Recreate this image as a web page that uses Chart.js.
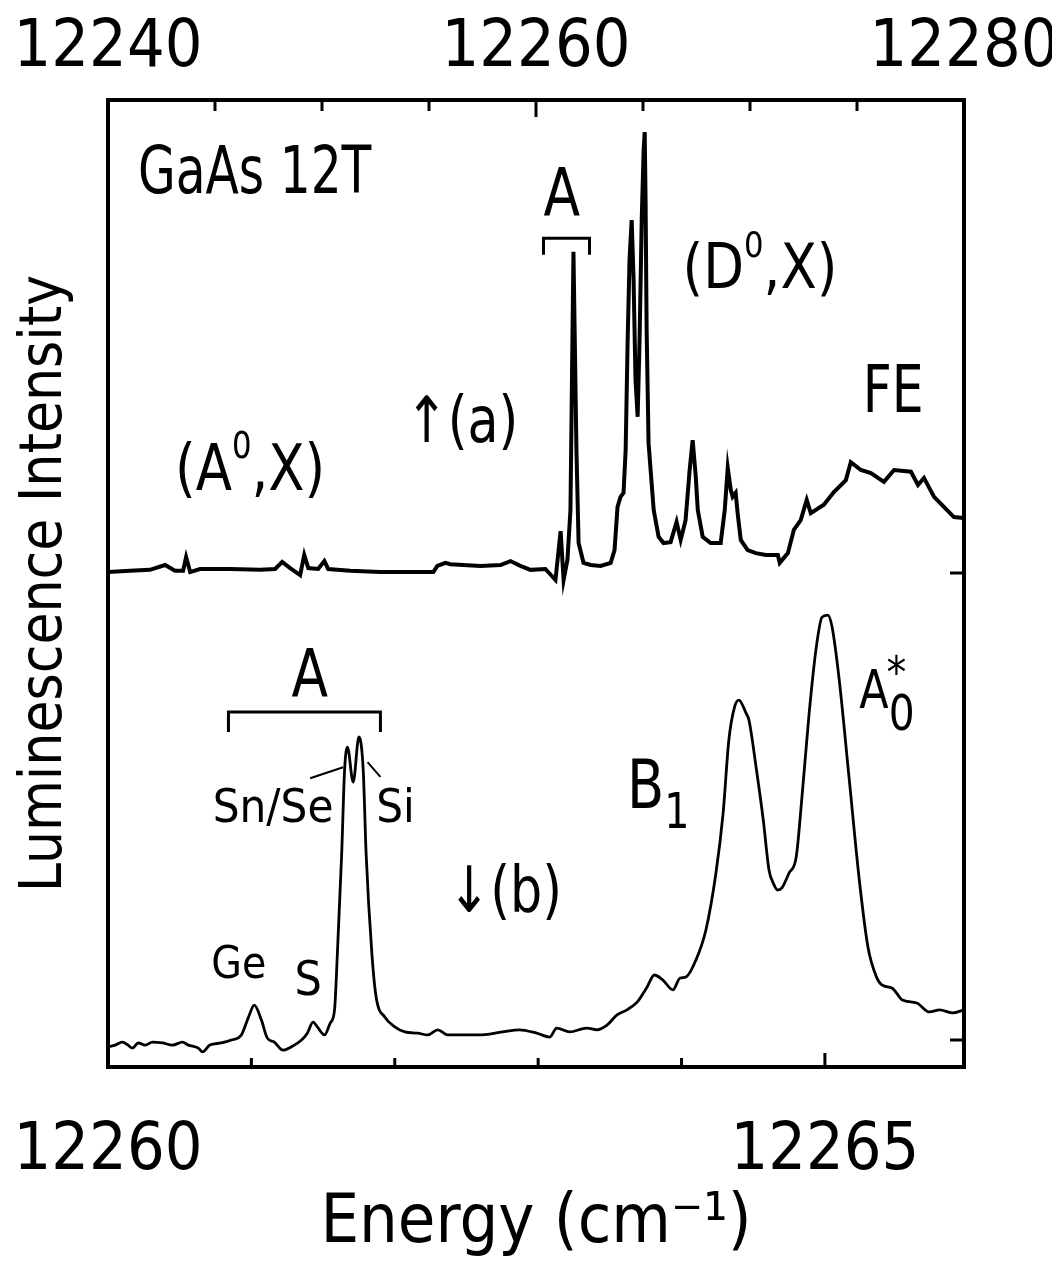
<!DOCTYPE html>
<html>
<head>
<meta charset="utf-8">
<script src="https://cdn.jsdelivr.net/npm/chart.js@4.4.1/dist/chart.umd.min.js"></script>
<style>
  html, body { margin: 0; padding: 0; background: #fff; }
  canvas { display: block; }
</style>
</head>
<body>
<canvas id="myChart" width="1052" height="1262"></canvas>
<script>
const FONT = "'DejaVu Sans Condensed', 'Liberation Sans Narrow', 'Liberation Sans', sans-serif"

// spectrum (a), read against the top energy axis (cm-1)
const upperEnergy = [
  12240.00, 12241.03, 12241.96, 12242.67, 12243.13, 12243.51, 12243.65, 12243.84, 12244.30, 12245.71,
  12247.11, 12247.81, 12248.14, 12248.51, 12248.98, 12249.17, 12249.36, 12249.82, 12250.11, 12250.29,
  12251.32, 12252.73, 12254.13, 12255.20, 12255.39, 12255.77, 12256.00, 12257.40, 12258.34, 12258.81,
  12259.27, 12259.74, 12260.44, 12260.91, 12261.15, 12261.29, 12261.47, 12261.61, 12261.75, 12261.89,
  12261.99, 12262.22, 12262.55, 12263.02, 12263.49, 12263.67, 12263.81, 12263.95, 12264.09, 12264.19,
  12264.28, 12264.37, 12264.47, 12264.56, 12264.65, 12264.75, 12264.84, 12264.94, 12265.03, 12265.08,
  12265.12, 12265.17, 12265.26, 12265.50, 12265.73, 12265.96, 12266.29, 12266.57, 12266.76, 12266.99,
  12267.18, 12267.32, 12267.46, 12267.56, 12267.79, 12268.16, 12268.63, 12268.82, 12268.96, 12269.10,
  12269.19, 12269.33, 12269.43, 12269.57, 12269.89, 12270.27, 12270.74, 12271.30, 12271.39, 12271.77,
  12272.05, 12272.37, 12272.65, 12272.84, 12273.45, 12273.92, 12274.48, 12274.71, 12275.18, 12275.65,
  12276.26, 12276.73, 12277.52, 12277.85, 12278.13, 12278.60, 12279.06, 12279.53, 12280.00
]
const upperIntensity = [
  0.2, 0.5, 0.7, 1.8, 0.5, 0.5, 3.6, 0.2, 0.9, 0.9,
  0.7, 0.9, 2.5, 1.1, -0.5, 4.1, 1.1, 0.9, 2.7, 0.9,
  0.5, 0.2, 0.2, 0.2, 1.6, 2.3, 2.0, 1.6, 1.8, 2.7,
  1.6, 0.7, 0.9, -1.6, 9.5, -1.6, 3.0, 14.3, 73.0, 28.0,
  6.8, 2.3, 1.8, 1.6, 2.3, 5.2, 15.0, 17.3, 18.2, 28.0,
  52.3, 71.1, 80.2, 66.6, 43.9, 35.5, 53.0, 80.2, 96.1, 100.2,
  84.8, 55.2, 29.5, 14.3, 8.2, 6.8, 7.0, 11.6, 7.5, 12.0,
  23.4, 30.2, 22.3, 14.3, 8.2, 6.8, 6.8, 14.3, 23.9, 18.9,
  17.3, 18.2, 13.2, 7.5, 5.2, 4.5, 4.1, 4.1, 2.3, 4.5,
  9.8, 12.0, 16.6, 13.6, 15.5, 18.4, 21.1, 25.2, 23.4, 22.7,
  20.7, 23.4, 23.0, 20.0, 21.6, 17.3, 15.0, 12.7, 12.5
]

// spectrum (b), read against the bottom energy axis (cm-1)
const lowerEnergy = [
  12260.00, 12260.05, 12260.10, 12260.14, 12260.17, 12260.21, 12260.26, 12260.31, 12260.38, 12260.45,
  12260.52, 12260.56, 12260.63, 12260.66, 12260.71, 12260.79, 12260.86, 12260.93, 12260.98, 12261.02,
  12261.07, 12261.11, 12261.16, 12261.22, 12261.28, 12261.35, 12261.39, 12261.43, 12261.46, 12261.51,
  12261.55, 12261.58, 12261.60, 12261.63, 12261.65, 12261.67, 12261.71, 12261.75, 12261.78, 12261.80,
  12261.84, 12261.87, 12261.93, 12262.00, 12262.07, 12262.16, 12262.23, 12262.30, 12262.37, 12262.47,
  12262.61, 12262.75, 12262.87, 12262.99, 12263.08, 12263.13, 12263.22, 12263.34, 12263.41, 12263.48,
  12263.55, 12263.62, 12263.69, 12263.76, 12263.81, 12263.87, 12263.94, 12263.99, 12264.03, 12264.10,
  12264.17, 12264.24, 12264.29, 12264.33, 12264.37, 12264.40, 12264.45, 12264.47, 12264.52, 12264.57,
  12264.61, 12264.64, 12264.67, 12264.70, 12264.75, 12264.80, 12264.84, 12264.89, 12264.94, 12264.98,
  12265.02, 12265.05, 12265.10, 12265.17, 12265.24, 12265.30, 12265.36, 12265.40, 12265.47, 12265.54,
  12265.64, 12265.73, 12265.80, 12265.89, 12265.97
]
const lowerIntensity = [
  -1.6, -1.2, -0.5, -1.2, -1.9, -0.7, -1.2, -0.5, -0.7, -1.2,
  -0.5, -1.2, -1.9, -2.8, -1.2, -0.7, 0.0, 1.2, 5.4, 8.2,
  4.7, 0.5, -0.5, -2.4, -1.6, 0.0, 1.6, 4.2, 3.1, 1.2,
  4.0, 7.1, 20.5, 44.0, 63.5, 68.9, 60.7, 71.3, 63.5, 44.0,
  20.5, 10.1, 5.4, 3.1, 1.9, 1.6, 1.2, 2.4, 1.2, 1.2,
  1.2, 1.9, 2.4, 1.6, 0.7, 2.8, 1.9, 2.8, 2.4, 3.5,
  5.9, 7.1, 8.9, 12.5, 15.3, 14.1, 11.8, 14.6, 14.8, 18.8,
  25.9, 39.3, 53.4, 70.6, 78.4, 80.0, 76.9, 75.3, 64.2, 51.8,
  40.0, 36.9, 35.3, 35.8, 39.3, 43.1, 57.2, 76.9, 92.5, 99.5,
  100.0, 97.2, 84.7, 61.2, 37.6, 21.9, 14.8, 12.9, 12.2, 9.4,
  8.7, 6.6, 7.1, 6.4, 7.1
]

// axis ticks
const topTickLabels = [12240, 12260, 12280]
const topTicks = [12245, 12250, 12255, 12260, 12265, 12270, 12275]
const bottomTickLabels = [12260, 12265]
const bottomTicks = [12261, 12262, 12263, 12264, 12265]

// labels in the plot, placed in data units: [text, size factor, rise in em]
const upperNotes = [
  { parts: [['GaAs 12T', 1, 0]], x: 12241.4, y: 86.4, size: 66, squeeze: 0.82 },
  { parts: [['A', 1, 0]], x: 12260.35, y: 81.4, size: 66, squeeze: 0.9 },
  { parts: [['(D', 1, 0], ['0', 0.58, 0.5], [',X)', 1, 0]], x: 12266.85, y: 64.8, size: 62, squeeze: 0.95 },
  { parts: [['FE', 1, 0]], x: 12275.27, y: 36.6, size: 66, squeeze: 0.85 },
  { parts: [['(A', 1, 0], ['0', 0.58, 0.5], [',X)', 1, 0]], x: 12243.13, y: 18.9, size: 64, squeeze: 0.92 },
  { parts: [['↑(a)', 1, 0]], x: 12253.89, y: 29.8, size: 64, squeeze: 0.88 }
]
const lowerNotes = [
  { parts: [['A', 1, 0]], x: 12261.28, y: 80.9, size: 66, squeeze: 0.9 },
  { parts: [['Sn/Se', 1, 0]], x: 12260.73, y: 51.3, size: 47, squeeze: 1 },
  { parts: [['Si', 1, 0]], x: 12261.87, y: 51.3, size: 47, squeeze: 1 },
  { parts: [['Ge', 1, 0]], x: 12260.72, y: 14.6, size: 44, squeeze: 1 },
  { parts: [['S', 1, 0]], x: 12261.30, y: 10.6, size: 48, squeeze: 1 },
  { parts: [['↓(b)', 1, 0]], x: 12262.37, y: 30.1, size: 64, squeeze: 0.88 },
  { parts: [['B', 1, 0], ['1', 0.73, -0.3]], x: 12263.62, y: 54.6, size: 67, squeeze: 0.9 },
  { parts: [['A', 1, 0], ['0', 0.95, -0.41]], x: 12265.24, y: 78.1, size: 53, squeeze: 0.9 },
  { parts: [['*', 1, 0]], x: 12265.43, y: 82.8, size: 44, squeeze: 1 }
]

// brackets and leader lines, data units
const upperBracket = { x0: 12260.35, x1: 12262.50, bar: 76.1, end: 72.3 }
const lowerBracket = { x0: 12260.84, x1: 12261.90, bar: 77.2, end: 72.5 }
const lowerLeaders = [
  [12261.41, 61.6, 12261.64, 64.2],
  [12261.81, 65.4, 12261.90, 61.9]
]

function drawNote(ctx, note, xs, ys) {
  const x0 = xs.getPixelForValue(note.x)
  const y = ys.getPixelForValue(note.y)
  ctx.save()
  ctx.translate(x0, y)
  ctx.scale(note.squeeze, 1)
  let x = 0
  note.parts.forEach(([text, f, rise]) => {
    ctx.font = (note.size * f) + 'px ' + FONT
    ctx.fillText(text, x, -rise * note.size)
    x += ctx.measureText(text).width
  })
  ctx.restore()
}

function drawBracket(ctx, b, xs, ys) {
  const x0 = xs.getPixelForValue(b.x0), x1 = xs.getPixelForValue(b.x1)
  const yb = ys.getPixelForValue(b.bar), ye = ys.getPixelForValue(b.end)
  ctx.beginPath()
  ctx.moveTo(x0, ye); ctx.lineTo(x0, yb); ctx.lineTo(x1, yb); ctx.lineTo(x1, ye)
  ctx.stroke()
}

const notesPlugin = {
  id: 'notes',
  afterDatasetsDraw(chart) {
    const ctx = chart.ctx
    const s = chart.scales
    ctx.save()
    ctx.fillStyle = '#000'
    ctx.strokeStyle = '#000'
    ctx.textBaseline = 'alphabetic'
    ctx.textAlign = 'left'
    upperNotes.forEach(n => drawNote(ctx, n, s.xTop, s.yUp))
    lowerNotes.forEach(n => drawNote(ctx, n, s.xBot, s.yLow))
    ctx.lineWidth = 3
    drawBracket(ctx, upperBracket, s.xTop, s.yUp)
    drawBracket(ctx, lowerBracket, s.xBot, s.yLow)
    ctx.lineWidth = 2
    lowerLeaders.forEach(l => {
      ctx.beginPath()
      ctx.moveTo(s.xBot.getPixelForValue(l[0]), s.yLow.getPixelForValue(l[1]))
      ctx.lineTo(s.xBot.getPixelForValue(l[2]), s.yLow.getPixelForValue(l[3]))
      ctx.stroke()
    })
    ctx.restore()
  }
}

// box round the plot with inward ticks
const framePlugin = {
  id: 'frame',
  afterDraw(chart) {
    const ctx = chart.ctx
    const a = chart.chartArea
    const s = chart.scales
    ctx.save()
    ctx.strokeStyle = '#000'
    ctx.lineWidth = 4
    ctx.strokeRect(a.left, a.top, a.right - a.left, a.bottom - a.top)
    ctx.lineWidth = 3
    ctx.beginPath()
    topTicks.forEach(v => {
      const x = s.xTop.getPixelForValue(v)
      ctx.moveTo(x, a.top)
      ctx.lineTo(x, a.top + (topTickLabels.includes(v) ? 17 : 11))
    })
    bottomTicks.forEach(v => {
      const x = s.xBot.getPixelForValue(v)
      ctx.moveTo(x, a.bottom)
      ctx.lineTo(x, a.bottom - (bottomTickLabels.includes(v) ? 14 : 9))
    })
    const yu = s.yUp.getPixelForValue(0), yl = s.yLow.getPixelForValue(0)
    ctx.moveTo(a.right, yu); ctx.lineTo(a.right - 14, yu)
    ctx.moveTo(a.right, yl); ctx.lineTo(a.right - 14, yl)
    ctx.stroke()
    ctx.restore()
  }
}

const data = {
  datasets: [
    {
      label: '(a)',
      data: upperEnergy.map((e, i) => ({ x: e, y: upperIntensity[i] })),
      xAxisID: 'xTop',
      yAxisID: 'yUp',
      borderColor: '#000',
      borderWidth: 4,
      pointRadius: 0,
      tension: 0
    },
    {
      label: '(b)',
      data: lowerEnergy.map((e, i) => ({ x: e, y: lowerIntensity[i] })),
      xAxisID: 'xBot',
      yAxisID: 'yLow',
      borderColor: '#000',
      borderWidth: 2.8,
      pointRadius: 0,
      cubicInterpolationMode: 'monotone'
    }
  ]
}

const tickFont = { family: FONT, size: 66, lineHeight: 1 }

// keep wide edge labels from pushing the plot box inwards
function noEdgePadding(scale) {
  scale.paddingLeft = 0
  scale.paddingRight = 0
  scale.paddingTop = 0
  scale.paddingBottom = 0
}

const config = {
  type: 'line',
  data: data,
  options: {
    responsive: false,
    animation: false,
    layout: { padding: { right: 88 } },
    plugins: { legend: { display: false }, tooltip: { enabled: false } },
    scales: {
      xTop: {
        type: 'linear',
        position: 'top',
        min: 12240,
        max: 12280,
        grid: { display: false, drawTicks: false },
        border: { display: false },
        afterBuildTicks: scale => { scale.ticks = topTickLabels.map(v => ({ value: v })) },
        afterFit: scale => { scale.height = 100; noEdgePadding(scale) },
        ticks: { color: '#000', font: tickFont, padding: 18, maxRotation: 0, autoSkip: false, callback: v => String(v) }
      },
      xBot: {
        type: 'linear',
        position: 'bottom',
        min: 12260,
        max: 12265.97,
        grid: { display: false, drawTicks: false },
        border: { display: false },
        afterBuildTicks: scale => { scale.ticks = bottomTickLabels.map(v => ({ value: v })) },
        afterFit: scale => { scale.height = 195; noEdgePadding(scale) },
        ticks: { color: '#000', font: tickFont, padding: 52, maxRotation: 0, autoSkip: false, callback: v => String(v) },
        title: { display: true, text: 'Energy (cm⁻¹)', color: '#000', font: { family: FONT, size: 68, lineHeight: 1 }, padding: 4 }
      },
      yUp: {
        type: 'linear',
        position: 'left',
        min: -112.3,
        max: 107.5,
        grid: { display: false, drawTicks: false },
        border: { display: false },
        ticks: { display: false },
        afterFit: scale => { scale.width = 108; noEdgePadding(scale) },
        title: { display: true, text: 'Luminescence Intensity', color: '#000', font: { family: FONT, size: 58, lineHeight: 1 }, padding: { top: 17, bottom: 0 } }
      },
      yLow: {
        type: 'linear',
        position: 'right',
        display: false,
        min: -6.35,
        max: 221.2
      }
    }
  },
  plugins: [notesPlugin, framePlugin]
}

const myChart = new Chart(document.getElementById('myChart'), config)
</script>
</body>
</html>
